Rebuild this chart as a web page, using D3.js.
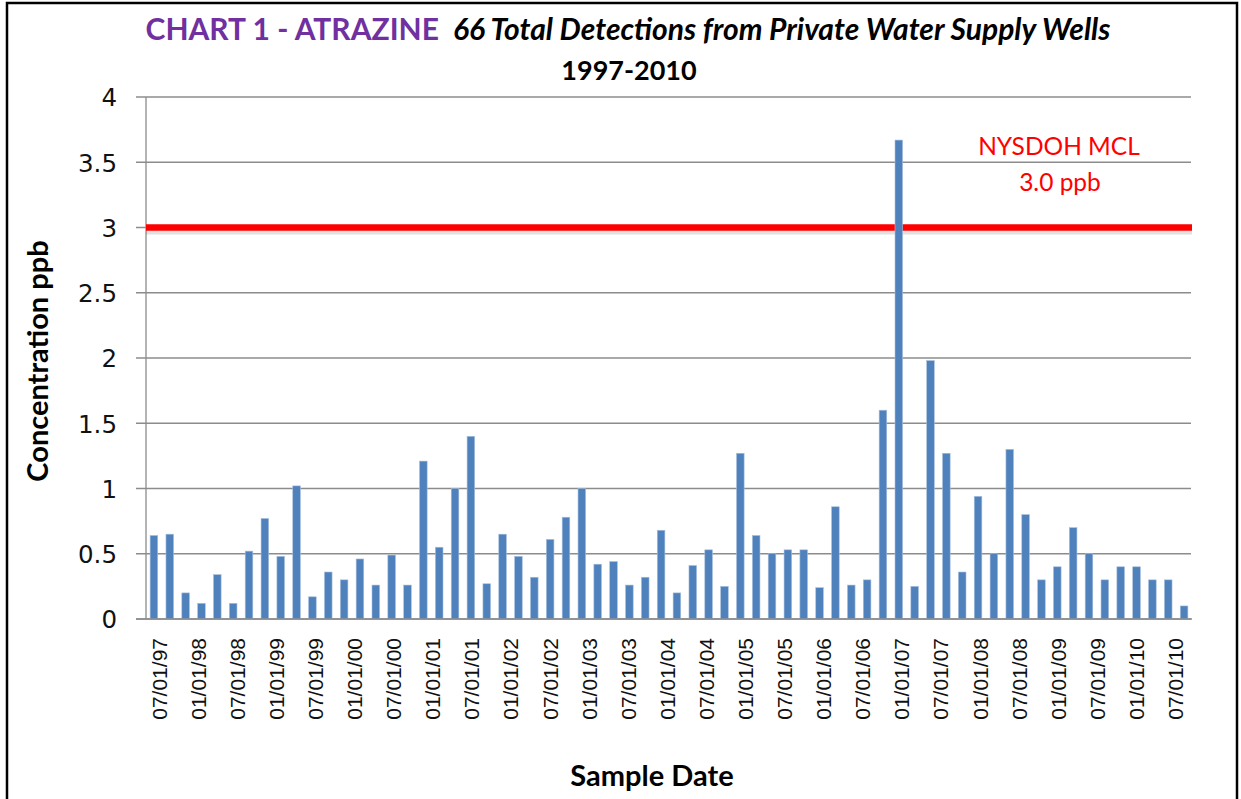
<!DOCTYPE html>
<html>
<head>
<meta charset="utf-8">
<script src="https://cdn.jsdelivr.net/npm/d3@7"></script>
<style>
  body { margin: 0; background: #fff; }
</style>
</head>
<body>
<div class="svg-container"></div>
<script>
// atrazine detections (ppb)
const values = [0.64, 0.65, 0.2, 0.12, 0.34, 0.12, 0.52, 0.77, 0.48, 1.02,
  0.17, 0.36, 0.3, 0.46, 0.26, 0.49, 0.26, 1.21, 0.55, 1.0,
  1.4, 0.27, 0.65, 0.48, 0.32, 0.61, 0.78, 1.0, 0.42, 0.44,
  0.26, 0.32, 0.68, 0.2, 0.41, 0.53, 0.25, 1.27, 0.64, 0.5,
  0.53, 0.53, 0.24, 0.86, 0.26, 0.3, 1.6, 3.67, 0.25, 1.98,
  1.27, 0.36, 0.94, 0.5, 1.3, 0.8, 0.3, 0.4, 0.7, 0.5,
  0.3, 0.4, 0.4, 0.3, 0.3, 0.1];

// date labels along the x axis (every six months)
const dateLabels = ['07/01/97', '01/01/98', '07/01/98', '01/01/99', '07/01/99',
  '01/01/00', '07/01/00', '01/01/01', '07/01/01', '01/01/02', '07/01/02',
  '01/01/03', '07/01/03', '01/01/04', '07/01/04', '01/01/05', '07/01/05',
  '01/01/06', '07/01/06', '01/01/07', '07/01/07', '01/01/08', '07/01/08',
  '01/01/09', '07/01/09', '01/01/10', '07/01/10'];

const yTicks = [0, 0.5, 1, 1.5, 2, 2.5, 3, 3.5, 4];
const mcl = 3.0;

const width = 1241;
const height = 799;
const plot = { left: 146, right: 1192, top: 97, bottom: 619 };

const svg = d3.select('.svg-container')
  .append('svg')
  .attr('width', width)
  .attr('height', height);

// outer frame
svg.append('rect')
  .attr('x', 7).attr('y', 3)
  .attr('width', 1230).attr('height', 820)
  .attr('fill', 'none')
  .attr('stroke', '#000')
  .attr('stroke-width', 2.5);

// scales
const xScale = d3.scaleBand()
  .domain(d3.range(values.length))
  .range([plot.left, plot.right])
  .paddingInner(0.52)
  .paddingOuter(0.26);

const xLabelScale = d3.scalePoint()
  .domain(dateLabels)
  .range([158.5, 1175]);

const yScale = d3.scaleLinear()
  .domain([0, 4])
  .range([plot.bottom, plot.top]);

// gridlines
svg.append('g')
  .selectAll('line')
  .data(yTicks)
  .join('line')
  .attr('x1', 136)
  .attr('x2', plot.right - 1)
  .attr('y1', d => yScale(d))
  .attr('y2', d => yScale(d))
  .attr('stroke', '#8c8c8c')
  .attr('stroke-width', 1.3);

// y axis
const yAxis = d3.axisLeft(yScale)
  .tickValues(yTicks)
  .tickSize(0)
  .tickPadding(0)
  .tickFormat(d => d);

svg.append('g')
  .attr('class', 'y-axis')
  .attr('transform', `translate(117,0)`)
  .call(yAxis)
  .call(g => g.select('.domain').remove())
  .selectAll('text')
  .attr('font-family', '"DejaVu Sans", sans-serif')
  .attr('font-size', 24.5)
  .attr('fill', '#111')
  .attr('dy', '0.36em');

svg.append('line')
  .attr('x1', plot.left).attr('x2', plot.left)
  .attr('y1', plot.top).attr('y2', plot.bottom)
  .attr('stroke', '#8c8c8c')
  .attr('stroke-width', 1.3);

// MCL line with soft shadow
svg.append('line')
  .attr('x1', plot.left).attr('x2', plot.right)
  .attr('y1', yScale(mcl) + 4).attr('y2', yScale(mcl) + 4)
  .attr('stroke', '#000')
  .attr('stroke-opacity', 0.12)
  .attr('stroke-width', 6);

svg.append('line')
  .attr('x1', plot.left).attr('x2', plot.right)
  .attr('y1', yScale(mcl)).attr('y2', yScale(mcl))
  .attr('stroke', '#ff0000')
  .attr('stroke-width', 6.5);

// bars
svg.selectAll('.bars')
  .data(values)
  .join('rect')
  .attr('class', 'bars')
  .attr('x', (d, i) => xScale(i))
  .attr('y', d => yScale(d))
  .attr('width', xScale.bandwidth())
  .attr('height', d => yScale(0) - yScale(d))
  .attr('fill', '#4f81bd')
  .attr('stroke', '#a7bfdd')
  .attr('stroke-width', 0.6);

// x baseline
svg.append('line')
  .attr('x1', 136).attr('x2', plot.right)
  .attr('y1', plot.bottom).attr('y2', plot.bottom)
  .attr('stroke', '#8c8c8c')
  .attr('stroke-width', 1.3);

// x axis date labels
const xAxis = d3.axisBottom(xLabelScale)
  .tickSize(0)
  .tickPadding(0);

svg.append('g')
  .attr('class', 'x-axis')
  .attr('transform', `translate(0,${plot.bottom})`)
  .call(xAxis)
  .call(g => g.select('.domain').remove())
  .selectAll('text')
  .attr('font-family', '"Liberation Sans", Arial, sans-serif')
  .attr('font-size', 21)
  .attr('fill', '#111')
  .attr('text-anchor', 'end')
  .attr('transform', 'rotate(-90)')
  .attr('x', -19)
  .attr('y', 0)
  .attr('dy', '0.36em');

// MCL label
svg.append('text')
  .attr('x', 1059).attr('y', 155)
  .attr('text-anchor', 'middle')
  .attr('font-family', 'Lato, sans-serif')
  .attr('font-size', 24.5)
  .attr('fill', '#ff0000')
  .text('NYSDOH  MCL');

svg.append('text')
  .attr('x', 1060).attr('y', 191)
  .attr('text-anchor', 'middle')
  .attr('font-family', 'Lato, sans-serif')
  .attr('font-size', 24.5)
  .attr('fill', '#ff0000')
  .text('3.0 ppb');

// title
const title = svg.append('text')
  .attr('x', 628).attr('y', 40)
  .attr('text-anchor', 'middle')
  .attr('font-family', 'Lato, sans-serif')
  .attr('font-weight', 'bold')
  .attr('font-size', 30);

title.append('tspan')
  .attr('fill', '#7030a0')
  .text('CHART 1 - ATRAZINE');

title.append('tspan')
  .attr('fill', '#000')
  .attr('font-style', 'italic')
  .attr('dx', 14)
  .text('66 Total Detections from Private Water Supply Wells');

svg.append('text')
  .attr('x', 629).attr('y', 80)
  .attr('text-anchor', 'middle')
  .attr('font-family', 'Lato, sans-serif')
  .attr('font-weight', 'bold')
  .attr('font-size', 27)
  .attr('fill', '#000')
  .text('1997-2010');

// axis titles
svg.append('text')
  .attr('transform', 'translate(48,361) rotate(-90)')
  .attr('text-anchor', 'middle')
  .attr('font-family', 'Lato, sans-serif')
  .attr('font-weight', 'bold')
  .attr('font-size', 29)
  .attr('fill', '#000')
  .text('Concentration ppb');

svg.append('text')
  .attr('x', 652).attr('y', 786)
  .attr('text-anchor', 'middle')
  .attr('font-family', 'Lato, sans-serif')
  .attr('font-weight', 'bold')
  .attr('font-size', 29)
  .attr('fill', '#000')
  .text('Sample Date');
</script>
</body>
</html>
